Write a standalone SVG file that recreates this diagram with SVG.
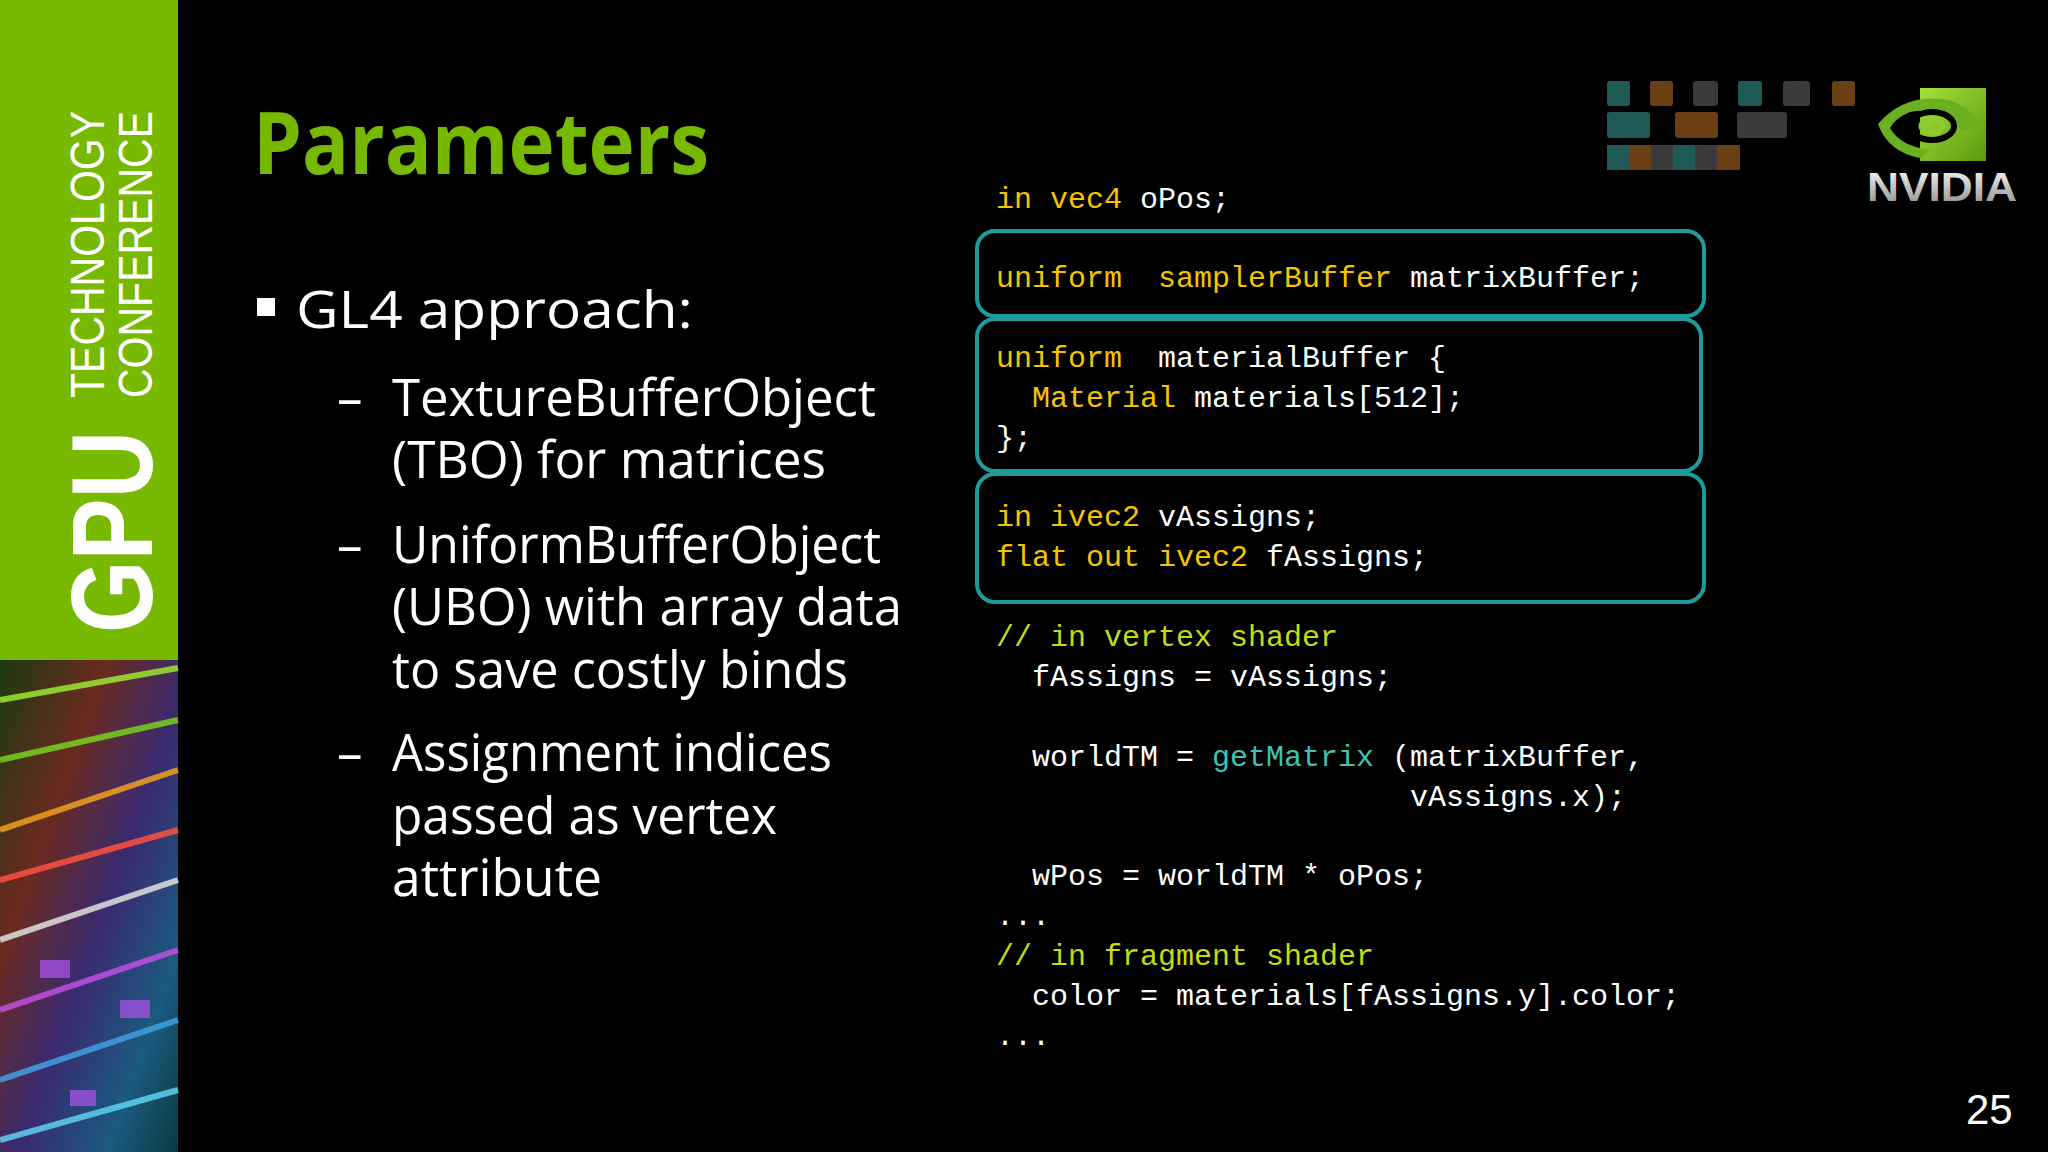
<svg xmlns="http://www.w3.org/2000/svg" width="2048" height="1152" viewBox="0 0 2048 1152">
<defs>
<style>
.sub{font-family:"Open Sans","DejaVu Sans",sans-serif;font-size:51px;fill:#fff}
.code{font-family:"Liberation Mono","DejaVu Sans Mono",monospace;font-size:30px;fill:#fff}
.k{fill:#f5c400}
.c{fill:#c4dc12}
.f{fill:#3fc2b4}
.box{fill:none;stroke:#1c9c9a;stroke-width:4}
.t{fill:#1f5a56}.o{fill:#6b3f16}.g{fill:#3a3a3a}
</style>
<linearGradient id="chip" x1="0" y1="0" x2="1" y2="1">
<stop offset="0" stop-color="#1a3a10"/><stop offset="0.3" stop-color="#6a2a20"/><stop offset="0.55" stop-color="#3a2a70"/><stop offset="0.8" stop-color="#1a5a80"/><stop offset="1" stop-color="#0a3a40"/>
</linearGradient>
<linearGradient id="nv" x1="0" y1="0" x2="0" y2="1"><stop offset="0" stop-color="#fff"/><stop offset="1" stop-color="#888"/></linearGradient>
<linearGradient id="ng" x1="0" y1="0" x2="1" y2="1"><stop offset="0" stop-color="#a6e03a"/><stop offset="1" stop-color="#5a9a10"/></linearGradient>
</defs>
<rect width="2048" height="1152" fill="#000"/>
<g id="sidebar">
<rect x="0" y="0" width="178" height="660" fill="#76b900"/>
<rect x="0" y="660" width="178" height="492" fill="url(#chip)"/>
<g stroke-width="6" fill="none" opacity="0.85">
<path d="M0 700 L178 668" stroke="#9be830"/>
<path d="M0 760 L178 720" stroke="#7ad020"/>
<path d="M0 830 L178 770" stroke="#f0a020"/>
<path d="M0 880 L178 830" stroke="#ff5040"/>
<path d="M0 940 L178 880" stroke="#e0e0e0"/>
<path d="M0 1010 L178 950" stroke="#c050e0"/>
<path d="M0 1080 L178 1020" stroke="#40a0e0"/>
<path d="M0 1140 L178 1090" stroke="#60d0f0"/>
</g>
<g fill="#a050e0" opacity="0.8"><rect x="40" y="960" width="30" height="18"/><rect x="120" y="1000" width="30" height="18"/><rect x="70" y="1090" width="26" height="16"/></g>
<g fill="#fff" font-family="Liberation Sans,Arial,sans-serif">
<text transform="translate(152,633) rotate(-90)" font-size="115" font-weight="bold" textLength="202" lengthAdjust="spacingAndGlyphs">GPU</text>
<text transform="translate(104,398) rotate(-90)" font-size="49" textLength="287" lengthAdjust="spacingAndGlyphs">TECHNOLOGY</text>
<text transform="translate(152,398) rotate(-90)" font-size="49" textLength="287" lengthAdjust="spacingAndGlyphs">CONFERENCE</text>
</g>
</g>
<g id="logo">
<rect class="t" x="1607" y="81" width="23" height="25" rx="3"/><rect class="o" x="1650" y="81" width="23" height="25" rx="3"/><rect class="g" x="1693" y="81" width="25" height="25" rx="3"/><rect class="t" x="1738" y="81" width="24" height="25" rx="3"/><rect class="g" x="1783" y="81" width="27" height="25" rx="3"/><rect class="o" x="1832" y="81" width="23" height="25" rx="3"/>
<rect class="t" x="1607" y="112" width="43" height="26" rx="3"/><rect class="o" x="1675" y="112" width="43" height="26" rx="3"/><rect class="g" x="1737" y="112" width="50" height="26" rx="3"/>
<rect class="t" x="1607" y="145" width="22" height="25"/><rect class="o" x="1629" y="145" width="22" height="25"/><rect class="g" x="1651" y="145" width="22" height="25"/><rect class="t" x="1673" y="145" width="22" height="25"/><rect class="g" x="1695" y="145" width="22" height="25"/><rect class="o" x="1717" y="145" width="23" height="25"/>
<rect x="1920" y="88" width="66" height="73" fill="url(#ng)"/>
<path d="M1878 124 Q1905 92 1950 100 Q1975 110 1982 130 L1960 130 Q1940 105 1910 112 Q1895 118 1890 128 Q1900 146 1930 150 L1920 158 Q1888 152 1878 124Z" fill="#6ab020"/>
<ellipse cx="1932" cy="126" rx="22" ry="14" fill="none" stroke="#000" stroke-width="6"/>
<ellipse cx="1932" cy="126" rx="11" ry="7" fill="none" stroke="#8ccc30" stroke-width="5"/>
<text x="1867" y="201" font-family="Liberation Sans,Arial,sans-serif" font-weight="bold" font-size="40" fill="url(#nv)" textLength="150" lengthAdjust="spacingAndGlyphs">NVIDIA</text>
<text x="2014" y="201" font-family="Liberation Sans,Arial,sans-serif" font-size="10" fill="#aaa">.</text>
</g>
<g id="title">
<text x="253" y="174" font-family="Open Sans,DejaVu Sans,sans-serif" font-weight="bold" font-size="86" fill="#76b900" textLength="456" lengthAdjust="spacingAndGlyphs">Parameters</text>
</g>
<g id="bullets">
<rect x="257" y="298" width="18" height="18" fill="#fff"/>
<text x="296" y="328" class="sub" font-size="60" textLength="397" lengthAdjust="spacingAndGlyphs">GL4 approach:</text>
<text x="337" y="416" class="sub">–</text>
<text x="392" y="416" class="sub" textLength="484" lengthAdjust="spacingAndGlyphs">TextureBufferObject</text>
<text x="392" y="478" class="sub" textLength="434" lengthAdjust="spacingAndGlyphs">(TBO) for matrices</text>
<text x="337" y="563" class="sub">–</text>
<text x="392" y="563" class="sub" textLength="489" lengthAdjust="spacingAndGlyphs">UniformBufferObject</text>
<text x="392" y="625" class="sub" textLength="510" lengthAdjust="spacingAndGlyphs">(UBO) with array data</text>
<text x="392" y="688" class="sub" textLength="456" lengthAdjust="spacingAndGlyphs">to save costly binds</text>
<text x="337" y="771" class="sub">–</text>
<text x="392" y="771" class="sub" textLength="440" lengthAdjust="spacingAndGlyphs">Assignment indices</text>
<text x="392" y="834" class="sub" textLength="385" lengthAdjust="spacingAndGlyphs">passed as vertex</text>
<text x="392" y="896" class="sub" textLength="210" lengthAdjust="spacingAndGlyphs">attribute</text>
</g>
<g id="boxes">
<rect class="box" x="977" y="231" width="727" height="85" rx="18"/>
<rect class="box" x="977" y="319" width="724" height="152" rx="18"/>
<rect class="box" x="977" y="474" width="727" height="128" rx="18"/>
</g>
<g id="code" class="code">
<text x="996" y="208"><tspan class="k">in vec4</tspan> oPos;</text>
<text x="996" y="287"><tspan class="k">uniform</tspan><tspan class="k" x="1158">samplerBuffer</tspan> matrixBuffer;</text>
<text x="996" y="367"><tspan class="k">uniform</tspan><tspan x="1158">materialBuffer {</tspan></text>
<text x="1032" y="407"><tspan class="k">Material</tspan> materials[512];</text>
<text x="996" y="447">};</text>
<text x="996" y="526"><tspan class="k">in ivec2</tspan> vAssigns;</text>
<text x="996" y="566"><tspan class="k">flat out ivec2</tspan> fAssigns;</text>
<text x="996" y="646" class="c">// in vertex shader</text>
<text x="1032" y="686">fAssigns = vAssigns;</text>
<text x="1032" y="766">worldTM = <tspan class="f">getMatrix</tspan> (matrixBuffer,</text>
<text x="1410" y="806">vAssigns.x);</text>
<text x="1032" y="885">wPos = worldTM * oPos;</text>
<text x="996" y="925">...</text>
<text x="996" y="965" class="c">// in fragment shader</text>
<text x="1032" y="1005">color = materials[fAssigns.y].color;</text>
<text x="996" y="1045">...</text>
</g>
<text x="1966" y="1124" font-family="Liberation Sans,Arial,sans-serif" font-size="42" fill="#fff">25</text>
</svg>
